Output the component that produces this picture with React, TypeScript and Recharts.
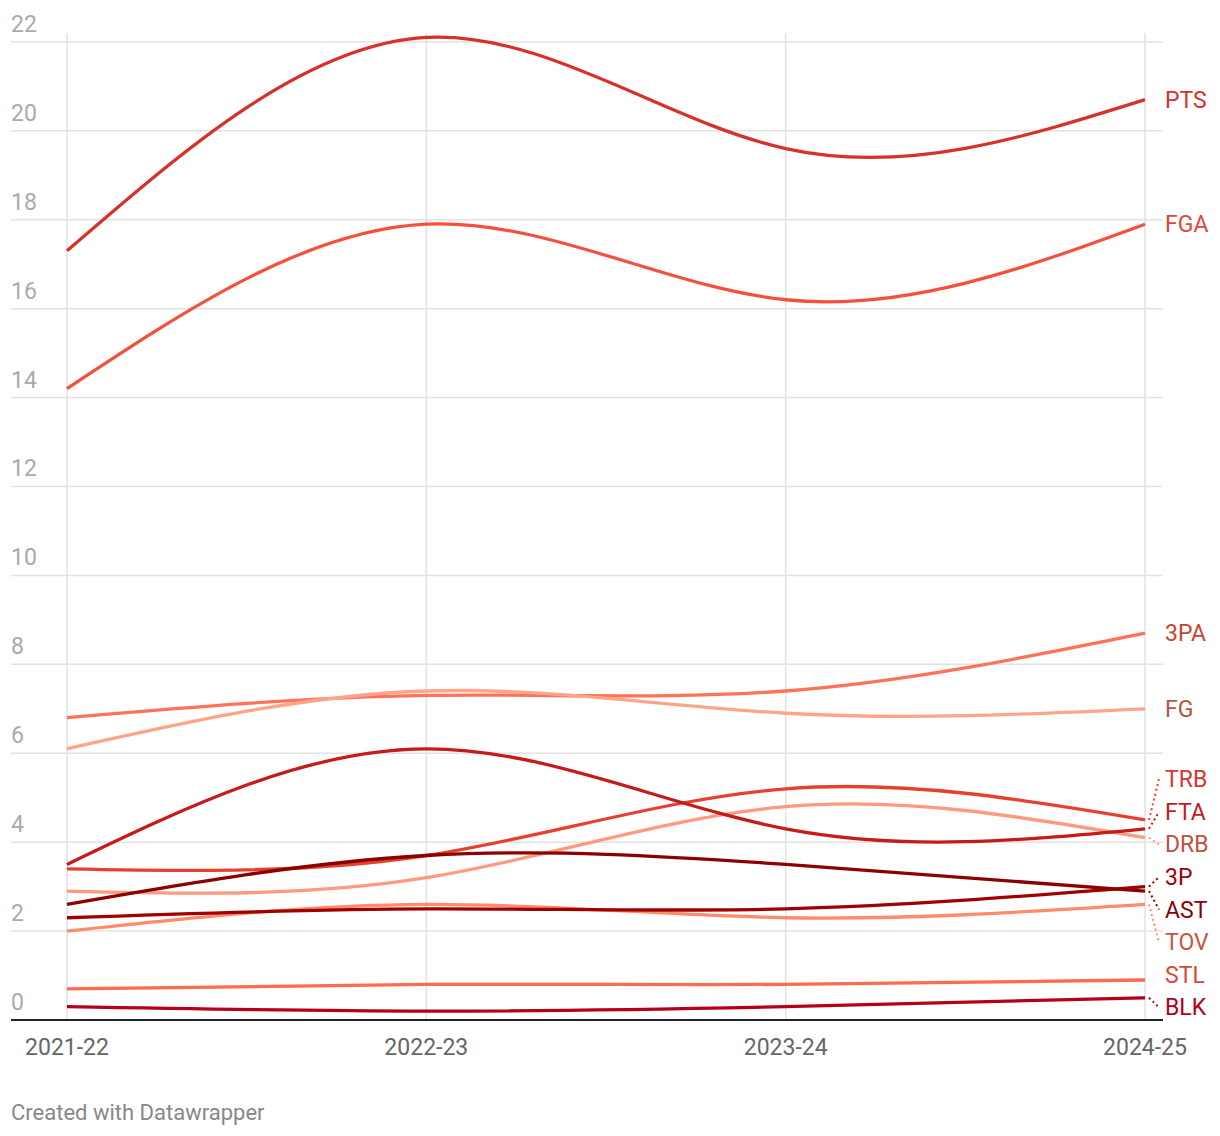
import { LineChart, Line, XAxis, YAxis, CartesianGrid, LabelList } from "recharts";

const seasons = ["2021-22", "2022-23", "2023-24", "2024-25"];

const pts = [17.3, 22.1, 19.6, 20.7];
const fga = [14.2, 17.9, 16.2, 17.9];
const threePA = [6.8, 7.3, 7.4, 8.7];
const fg = [6.1, 7.4, 6.9, 7.0];
const trb = [3.4, 3.7, 5.2, 4.5];
const fta = [3.5, 6.1, 4.3, 4.3];
const drb = [2.9, 3.2, 4.8, 4.1];
const threeP = [2.3, 2.5, 2.5, 3.0];
const ast = [2.6, 3.7, 3.5, 2.9];
const tov = [2.0, 2.6, 2.3, 2.6];
const stl = [0.7, 0.8, 0.8, 0.9];
const blk = [0.3, 0.2, 0.3, 0.5];

const yTicks = [0, 2, 4, 6, 8, 10, 12, 14, 16, 18, 20, 22];

type Series = { key: string; values: number[]; color: string; text: string };

const series: Series[] = [
  { key: "PTS", values: pts, color: "#d73229", text: "#d73229" },
  { key: "FGA", values: fga, color: "#f4513c", text: "#e6453a" },
  { key: "3PA", values: threePA, color: "#fe7257", text: "#c8452f" },
  { key: "FG", values: fg, color: "#fea48a", text: "#b5543f" },
  { key: "DRB", values: drb, color: "#fd9a80", text: "#c05040" },
  { key: "TOV", values: tov, color: "#fe8c6c", text: "#c8553f" },
  { key: "STL", values: stl, color: "#fe6a4e", text: "#d8473a" },
  { key: "TRB", values: trb, color: "#e8402f", text: "#d5372c" },
  { key: "FTA", values: fta, color: "#c51b1b", text: "#c41a1a" },
  { key: "BLK", values: blk, color: "#b6001b", text: "#b3001a" },
  { key: "3P", values: threeP, color: "#a10000", text: "#a00000" },
  { key: "AST", values: ast, color: "#8c0000", text: "#8c0000" },
];

const W = 1220;
const H = 1070;
const M = { top: 33, right: 57, bottom: 0, left: 0 };
const Y_AXIS_W = 11;
const X_AXIS_H = 50;
const Y_MAX = 22.2;
const LABEL_GAP = 32.6;
const FONT = 23;

const plotH = H - M.top - M.bottom - X_AXIS_H;
const pxPerUnit = plotH / Y_MAX;

const data = seasons.map((season, i) => {
  const row: Record<string, string | number> = { season };
  series.forEach((s) => (row[s.key] = s.values[i]));
  return row;
});

// push end labels apart so they don't overlap, keeps clusters centred on their lines
function computeShifts() {
  const items = series
    .map((s) => ({ key: s.key, target: -s.values[s.values.length - 1] * pxPerUnit }))
    .sort((a, b) => a.target - b.target);
  const clusters: { items: typeof items; start: number }[] = [];
  for (const it of items) {
    clusters.push({ items: [it], start: it.target });
    while (clusters.length > 1) {
      const cur = clusters[clusters.length - 1];
      const prev = clusters[clusters.length - 2];
      if (prev.start + prev.items.length * LABEL_GAP <= cur.start) break;
      const merged = [...prev.items, ...cur.items];
      const mean = merged.reduce((a, m) => a + m.target, 0) / merged.length;
      clusters.splice(clusters.length - 2, 2, {
        items: merged,
        start: mean - ((merged.length - 1) * LABEL_GAP) / 2,
      });
    }
  }
  const out: Record<string, number> = {};
  clusters.forEach((c) =>
    c.items.forEach((it, i) => (out[it.key] = c.start + i * LABEL_GAP - it.target))
  );
  return out;
}

const shifts = computeShifts();

function endLabel(s: Series) {
  return (props: any) => {
    const { x, y, index } = props;
    if (index !== seasons.length - 1) return null;
    const shift = shifts[s.key];
    const ly = y + shift;
    return (
      <g>
        {Math.abs(shift) > 6 && (
          <line
            x1={x + 4}
            y1={y}
            x2={x + 14}
            y2={ly}
            stroke={s.color}
            strokeWidth={2}
            strokeDasharray="2 3"
          />
        )}
        <text x={x + 20} y={ly} dy="0.35em" fill={s.text} fontSize={FONT}>
          {s.key}
        </text>
      </g>
    );
  };
}

function renderYTick(props: any) {
  const { y, payload } = props;
  return (
    <text x={Y_AXIS_W} y={y - 10} fill="#aaaaaa" fontSize={FONT} textAnchor="start">
      {payload.value}
    </text>
  );
}

export default function App() {
  return (
    <div
      style={{
        position: "absolute",
        top: 0,
        left: 0,
        width: W,
        height: 1136,
        background: "#fff",
        fontFamily: "Roboto, sans-serif",
      }}
    >
      <LineChart width={W} height={H} data={data} margin={M}>
        <CartesianGrid stroke="#e2e2e2" strokeWidth={1.5} syncWithTicks />
        <XAxis
          dataKey="season"
          height={X_AXIS_H}
          padding={{ left: 56, right: 18 }}
          tickLine={false}
          tickSize={0}
          tickMargin={19}
          axisLine={{ stroke: "#222", strokeWidth: 2 }}
          tick={{ fill: "#666", fontSize: FONT }}
        />
        <YAxis
          width={Y_AXIS_W}
          domain={[0, Y_MAX]}
          ticks={yTicks}
          interval={0}
          axisLine={false}
          tickLine={false}
          tickSize={0}
          tickMargin={0}
          tick={renderYTick}
        />
        {series.map((s) => (
          <Line
            key={s.key}
            dataKey={s.key}
            type="natural"
            stroke={s.color}
            strokeWidth={3.3}
            dot={false}
            activeDot={false}
            isAnimationActive={false}
          >
            <LabelList dataKey={s.key} content={endLabel(s)} />
          </Line>
        ))}
      </LineChart>
      <div
        style={{
          position: "absolute",
          top: 1100,
          left: 11,
          fontSize: 22,
          color: "#888",
        }}
      >
        Created with Datawrapper
      </div>
    </div>
  );
}
